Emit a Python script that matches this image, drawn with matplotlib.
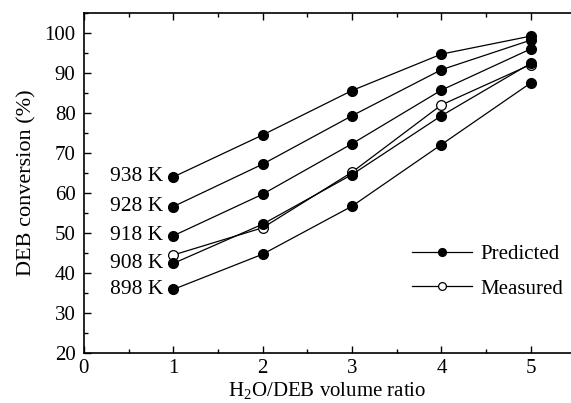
"""
DEB conversion vs H2O/DEB volume ratio: predicted and measured
"""

import matplotlib
matplotlib.use('Agg')
import matplotlib.pyplot as plt
from matplotlib.ticker import MultipleLocator

matplotlib.rcParams['font.family'] = 'serif'
matplotlib.rcParams['font.serif'] = ['Liberation Serif', 'DejaVu Serif']
matplotlib.rcParams['mathtext.fontset'] = 'custom'
matplotlib.rcParams['mathtext.rm'] = 'Liberation Serif'
matplotlib.rcParams['font.size'] = 15

ratio = [1, 2, 3, 4, 5]
temps = ['938 K', '928 K', '918 K', '908 K', '898 K']
predicted = [
    [64.0, 74.5, 85.6, 94.7, 99.2],
    [56.6, 67.2, 79.3, 90.8, 98.2],
    [49.3, 59.7, 72.3, 85.7, 96.0],
    [42.4, 52.2, 64.6, 79.3, 92.4],
    [35.9, 44.7, 56.7, 72.1, 87.5],
]
measured = [44.5, 51.3, 65.2, 82.0, 92.1]

fig = plt.figure(figsize=(5.71, 4.03), dpi=100)
ax = fig.add_axes([0.147, 0.124, 0.853, 0.844])

# measured first so the filled points sit on top
ax.plot(ratio, measured, 'o-', color='black', mfc='white', mec='black',
        lw=0.9, ms=7, mew=0.9, label='Measured', zorder=2)

for i, vals in enumerate(predicted):
    ax.plot(ratio, vals, 'o-', color='black', lw=0.9, ms=7,
            label='Predicted' if i == 0 else None, zorder=3)
    ax.text(0.885, vals[0], temps[i], ha='right', va='center', fontsize=15.5)

ax.set_xlim(0, 5.45)
ax.set_ylim(20, 105)
ax.xaxis.set_major_locator(MultipleLocator(1))
ax.xaxis.set_minor_locator(MultipleLocator(0.5))
ax.yaxis.set_minor_locator(MultipleLocator(5))
ax.set_yticks(range(20, 101, 10))
ax.tick_params(which='both', direction='in', top=True, right=False,
               labelsize=15)
ax.tick_params(axis='y', pad=6)
ax.tick_params(axis='x', pad=4)
ax.tick_params(which='major', length=5, width=1)
ax.tick_params(which='minor', length=3, width=1)
ax.spines['right'].set_visible(False)
for s in ['left', 'bottom', 'top']:
    ax.spines[s].set_linewidth(1.2)

ax.set_xlabel('H$_2$O/DEB volume ratio', fontsize=15, labelpad=2)
ax.set_ylabel('DEB conversion (%)', fontsize=16, labelpad=6)

h, l = ax.get_legend_handles_labels()
order = [l.index('Predicted'), l.index('Measured')]
ax.legend([h[k] for k in order], [l[k] for k in order], frameon=False,
          loc='upper left', bbox_to_anchor=(0.673, 0.318), fontsize=15,
          borderpad=0, borderaxespad=0, handlelength=2.9, markerscale=0.8,
          handletextpad=0.4, labelspacing=0.7)

plt.savefig('out.png', dpi=100)
